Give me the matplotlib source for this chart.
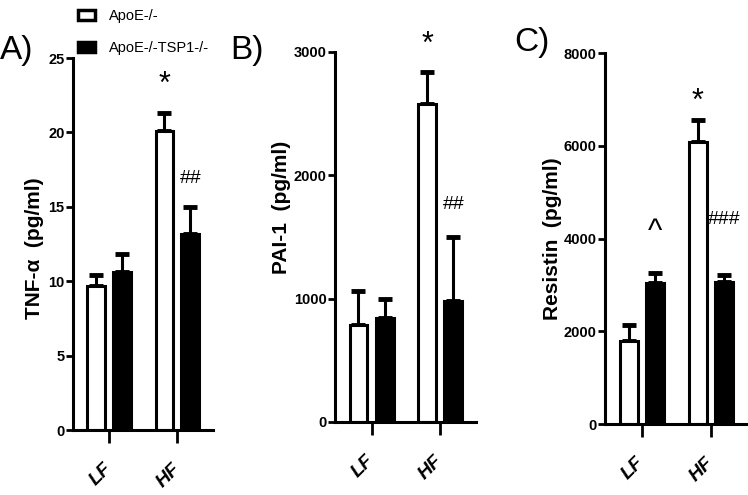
import matplotlib.pyplot as plt
from matplotlib.patches import Patch

plt.rcParams['font.family'] = ['Liberation Sans', 'DejaVu Sans']

groups = ["LF", "HF"]
legend_labels = ["ApoE-/-", "ApoE-/-TSP1-/-"]

# TNF-alpha (pg/ml)
tnf_apoe = [9.7, 20.1]
tnf_apoe_err = [0.7, 1.2]
tnf_tsp = [10.6, 13.2]
tnf_tsp_err = [1.2, 1.8]

# PAI-1 (pg/ml)
pai_apoe = [785, 2580]
pai_apoe_err = [275, 260]
pai_tsp = [840, 980]
pai_tsp_err = [160, 520]

# Resistin (pg/ml)
res_apoe = [1790, 6080]
res_apoe_err = [345, 470]
res_tsp = [3040, 3060]
res_tsp_err = [220, 150]

panels = [
    dict(rect=[0.0976, 0.1313, 0.187, 0.7515], tag="A)", tagx=0.0, tagy=0.93,
         ylabel="TNF-\u03b1  (pg/ml)", labelpos=(-0.21, 0.49),
         a=tnf_apoe, ae=tnf_apoe_err, t=tnf_tsp, te=tnf_tsp_err,
         yticks=[0, 5, 10, 15, 20, 25], ymax=25,
         marks=[(1, 0, "*", 23.2), (1, 1, "##", 16.9)]),
    dict(rect=[0.4480, 0.1475, 0.1885, 0.7475], tag="B)", tagx=0.308, tagy=0.93,
         ylabel="PAI-1  (pg/ml)", labelpos=(-0.31, 0.58),
         a=pai_apoe, ae=pai_apoe_err, t=pai_tsp, te=pai_tsp_err,
         yticks=[0, 1000, 2000, 3000], ymax=3000,
         marks=[(1, 0, "*", 3060), (1, 1, "##", 1760)]),
    dict(rect=[0.8088, 0.1434, 0.1900, 0.7495], tag="C)", tagx=0.687, tagy=0.945,
         ylabel="Resistin  (pg/ml)", labelpos=(-0.30, 0.5),
         a=res_apoe, ae=res_apoe_err, t=res_tsp, te=res_tsp_err,
         yticks=[0, 2000, 4000, 6000, 8000], ymax=8000,
         marks=[(0, 1, "^", 4150), (1, 0, "*", 6950), (1, 1, "###", 4420)]),
]

fig = plt.figure(figsize=(7.48, 4.95), dpi=100)

w = 0.26
off = 0.19
x = [0, 1]

for p in panels:
    ax = fig.add_axes(p["rect"])
    xa = [i - off for i in x]
    xt = [i + off for i in x]
    ax.bar(xa, p["a"], width=w, color="white", edgecolor="black", linewidth=2.2, zorder=2)
    ax.bar(xt, p["t"], width=w, color="black", edgecolor="black", linewidth=2.2, zorder=2)
    ax.errorbar(xa, p["a"], yerr=[[0, 0], p["ae"]], fmt="none", ecolor="black",
                elinewidth=2.2, capsize=5, capthick=3.5, zorder=1)
    ax.errorbar(xt, p["t"], yerr=[[0, 0], p["te"]], fmt="none", ecolor="black",
                elinewidth=2.2, capsize=5, capthick=3.5, zorder=1)

    ax.set_xlim(-0.53, 1.52)
    ax.set_ylim(0, p["ymax"])
    ax.set_yticks(p["yticks"])
    ax.set_yticklabels([str(v) for v in p["yticks"]], fontweight="bold", fontsize=10.5)
    ax.set_xticks(x)
    ax.set_xticklabels(groups, rotation=45, fontsize=14, fontweight="bold",
                       fontstyle="italic", ha="right", va="center",
                       rotation_mode="anchor")
    ax.tick_params(axis="y", length=5, width=2, pad=1)
    ax.tick_params(axis="x", length=9, width=2, pad=17)
    for s in ["top", "right"]:
        ax.spines[s].set_visible(False)
    for s in ["left", "bottom"]:
        ax.spines[s].set_linewidth(2.2)
    ax.set_ylabel(p["ylabel"], fontsize=15, fontweight="bold")
    ax.yaxis.set_label_coords(*p["labelpos"])

    for g, s, txt, yv in p["marks"]:
        xpos = g - off if s == 0 else g + off
        fs = {"*": 22, "^": 22}.get(txt, 14)
        ax.text(xpos, yv, txt, ha="center", va="center", fontsize=fs, clip_on=False)

    fig.text(p["tagx"], p["tagy"], p["tag"], fontsize=24, va="top", ha="left")

handles = [Patch(facecolor="white", edgecolor="black", linewidth=2.5),
           Patch(facecolor="black", edgecolor="black", linewidth=2.5)]
fig.legend(handles, legend_labels, loc="upper left", bbox_to_anchor=(0.104, 0.982),
           frameon=False, fontsize=10.5, handlelength=1.15, handleheight=0.65,
           labelspacing=1.25, handletextpad=1.0, borderpad=0, borderaxespad=0)

plt.savefig("out.png", dpi=100)
